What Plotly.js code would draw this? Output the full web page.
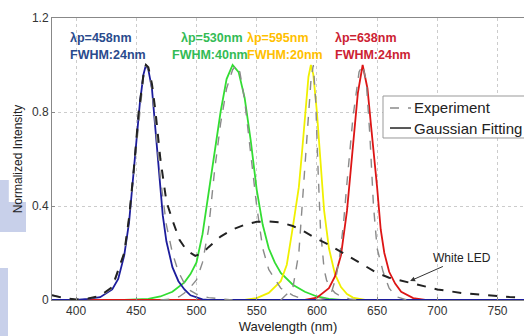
<!DOCTYPE html>
<html>
<head>
<meta charset="utf-8">
<script src="https://cdn.plot.ly/plotly-3.0.1.min.js"></script>
<style>
html,body{margin:0;padding:0;background:#fff;}
#chart{width:524px;height:336px;}
</style>
</head>
<body>
<div id="chart"></div>
<script>
// ---- data ----
var blueFitX = [380,400,410,420,430,435,440,444,447,450,453,456,458,460,463,466,469,472,475,480,485,490,495,500,505,510,780];
var blueFitY = [0,0,0.005,0.012,0.045,0.09,0.19,0.33,0.5,0.66,0.84,0.96,1.0,0.98,0.9,0.72,0.52,0.36,0.25,0.14,0.08,0.045,0.02,0.01,0.003,0,0];

var blueExpX = [380,390,400,410,420,430,440,444,448,452,456,458,460,463,466,470,475,480,485,490,495,500,510,520,530];
var blueExpY = [0.02,0.01,0,0.005,0.015,0.05,0.2,0.35,0.55,0.78,0.95,1.0,0.98,0.9,0.75,0.52,0.32,0.2,0.12,0.07,0.04,0.025,0.01,0.004,0];

var whiteX = [380,390,400,410,420,430,440,444,448,452,456,458,460,463,466,470,475,480,486,492,499,505,510,520,530,540,550,555,560,570,580,590,600,610,620,630,640,650,660,670,680,690,700,720,740,760,780];
var whiteY = [0.02,0.008,0.002,0.006,0.018,0.055,0.2,0.35,0.56,0.8,0.96,1.0,0.99,0.92,0.8,0.6,0.42,0.34,0.255,0.21,0.188,0.2,0.225,0.27,0.3,0.32,0.333,0.335,0.334,0.33,0.315,0.29,0.26,0.235,0.205,0.175,0.145,0.115,0.095,0.082,0.07,0.057,0.045,0.03,0.02,0.013,0.009];

var greenFitX = [380,440,460,470,480,490,495,500,505,510,515,520,525,530,535,540,545,550,555,560,565,570,580,590,600,610,620,780];
var greenFitY = [0,0,0.005,0.015,0.035,0.075,0.11,0.16,0.28,0.46,0.64,0.8,0.94,1.0,0.97,0.86,0.68,0.47,0.32,0.22,0.16,0.115,0.065,0.035,0.015,0.005,0,0];

var greenExpX = [470,480,486,490,495,500,505,510,515,520,525,530,533,536,540,545,550,555,560,570,580,590];
var greenExpY = [0,0.005,0.015,0.03,0.055,0.085,0.16,0.3,0.55,0.75,0.9,0.98,1.0,0.97,0.85,0.62,0.4,0.22,0.13,0.05,0.02,0];

var yellowFitX = [380,540,550,560,570,575,580,585,588,591,593,595,597,600,603,606,610,615,620,625,630,640,780];
var yellowFitY = [0,0,0.008,0.03,0.08,0.15,0.31,0.48,0.65,0.85,0.95,1.0,0.96,0.8,0.58,0.38,0.22,0.11,0.055,0.025,0.01,0,0];

var yellowExpX = [570,580,585,590,593,595,597,599,601,603,606,608,610,615,620,627,635];
var yellowExpY = [0,0.05,0.2,0.55,0.8,0.93,1.0,0.85,0.55,0.3,0.13,0.085,0.06,0.03,0.015,0.005,0];

var redFitX = [380,590,600,610,615,620,625,630,634,638,642,645,648,650,653,656,660,665,670,680,690,780];
var redFitY = [0,0,0.01,0.05,0.1,0.19,0.38,0.64,0.88,1.0,0.9,0.74,0.6,0.48,0.3,0.2,0.12,0.07,0.035,0.008,0,0];

var redExpX = [600,608,612,616,619,622,625,630,635,638,641,644,647,650,655,660,666,675];
var redExpY = [0,0.008,0.03,0.1,0.19,0.32,0.5,0.78,0.97,1.0,0.93,0.7,0.4,0.22,0.12,0.05,0.014,0];

var xTicks = [400,450,500,550,600,650,700,750];
var yTicks = [0,0.4,0.8,1.2];
var yTickText = ['0','0.4','0.8','1.2'];

var peakLabels = ['λp=458nm','λp=530nm','λp=595nm','λp=638nm'];
var fwhmLabels = ['FWHM:24nm','FWHM:40nm','FWHM:20nm','FWHM:24nm'];
var labelColors = ['#2a4b8d','#33bb55','#ffc000','#cc2233'];
var peakLabelX = [393.5,485.5,540.5,613.5];
var fwhmLabelX = [393.5,478,540.5,613.5];

var legendNames = ['Experiment','Gaussian Fitting'];

// ---- traces ----
function line(x,y,color,width,dash){
  return {x:x,y:y,type:'scatter',mode:'lines',showlegend:false,
    line:{color:color,width:width,dash:dash||'solid'},hoverinfo:'skip'};
}
var traces = [
  line(greenFitX,greenFitY,'#33dd33',1.8),
  line(yellowFitX,yellowFitY,'#f0f000',1.8),
  line(redFitX,redFitY,'#dd1515',1.8),
  line(blueFitX,blueFitY,'#1c1c9c',1.8),
  line(greenExpX,greenExpY,'#8a8a8a',1.4,'dash'),
  line(yellowExpX,yellowExpY,'#8a8a8a',1.4,'dash'),
  line(redExpX,redExpY,'#8a8a8a',1.4,'dash'),
  line(blueExpX,blueExpY,'#8a8a8a',1.4,'dash'),
  line(whiteX,whiteY,'#222222',2,'dash')
];

var annotations = [];
for (var i=0;i<peakLabels.length;i++){
  annotations.push({x:peakLabelX[i],y:1.115,xref:'x',yref:'y',text:peakLabels[i],showarrow:false,
    xanchor:'left',yanchor:'middle',font:{family:'Liberation Sans, Arial',size:12.5,color:labelColors[i],weight:'bold'}});
  annotations.push({x:fwhmLabelX[i],y:1.043,xref:'x',yref:'y',text:fwhmLabels[i],showarrow:false,
    xanchor:'left',yanchor:'middle',font:{family:'Liberation Sans, Arial',size:12.5,color:labelColors[i],weight:'bold'}});
}
annotations.push({x:677.4,y:0.081,xref:'x',yref:'y',text:'White LED',showarrow:true,
  ax:52,ay:-23,arrowhead:2,arrowsize:1,arrowwidth:1,arrowcolor:'#333',
  font:{family:'Liberation Sans, Arial',size:12,color:'#222'}});

// hand-built legend (box runs past the right edge like the reference)
var legRowY = [0.6809,0.6099];
for (var j=0;j<legendNames.length;j++){
  annotations.push({x:0.7627,y:legRowY[j],xref:'paper',yref:'paper',text:legendNames[j],showarrow:false,
    xanchor:'left',yanchor:'middle',font:{family:'Liberation Sans, Arial',size:15,color:'#222'}});
}

var shapes = [
  {type:'rect',xref:'paper',yref:'paper',x0:-0.1102,x1:-0.0915,y0:(300-232)/282,y1:(300-180)/282,fillcolor:'#c8d0ea',line:{width:0},layer:'below'},
  {type:'rect',xref:'paper',yref:'paper',x0:-0.1102,x1:-0.0551,y0:(300-232)/282,y1:(300-202)/282,fillcolor:'#c8d0ea',line:{width:0},layer:'below'},
  {type:'rect',xref:'paper',yref:'paper',x0:-0.1102,x1:-0.0932,y0:(300-340)/282,y1:(300-268)/282,fillcolor:'#c8d0ea',line:{width:0},layer:'below'},
  {type:'rect',xref:'paper',yref:'paper',x0:0.7013,x1:1.02,y0:0.5745,y1:0.7234,fillcolor:'#ffffff',line:{color:'#999',width:1},layer:'above'},
  {type:'line',xref:'paper',yref:'paper',x0:0.7161,x1:0.7606,y0:legRowY[0],y1:legRowY[0],line:{color:'#8a8a8a',width:1.4,dash:'dash'},layer:'above'},
  {type:'line',xref:'paper',yref:'paper',x0:0.7161,x1:0.7606,y0:legRowY[1],y1:legRowY[1],line:{color:'#222',width:1.5},layer:'above'}
];

var layout = {
  width:524,height:336,
  margin:{l:52,r:0,t:18,b:36},
  paper_bgcolor:'#ffffff',plot_bgcolor:'#ffffff',
  font:{family:'Liberation Sans, Arial',size:12,color:'#333'},
  xaxis:{range:[380,772],tickvals:xTicks,ticktext:xTicks.map(String),
    showgrid:true,gridcolor:'#cccccc',griddash:'dot',gridwidth:1,zeroline:false,
    showline:true,linecolor:'#888',linewidth:1,mirror:true,
    ticks:'inside',ticklen:3,tickcolor:'#888',
    tickfont:{size:12,color:'#333'},
    title:{text:'Wavelength (nm)',font:{size:13,color:'#222'},standoff:4}},
  yaxis:{range:[0,1.2],tickvals:yTicks,ticktext:yTickText,
    showgrid:true,gridcolor:'#cccccc',griddash:'dot',gridwidth:1,zeroline:false,
    showline:true,linecolor:'#888',linewidth:1,mirror:true,
    ticks:'inside',ticklen:3,tickcolor:'#888',
    tickfont:{size:12,color:'#333'},
    title:{text:'Normalized Intensity',font:{size:12,color:'#222'},standoff:6}},
  showlegend:false,
  annotations:annotations,
  shapes:shapes
};

Plotly.newPlot('chart',traces,layout,{displayModeBar:false,staticPlot:true});
</script>
</body>
</html>
